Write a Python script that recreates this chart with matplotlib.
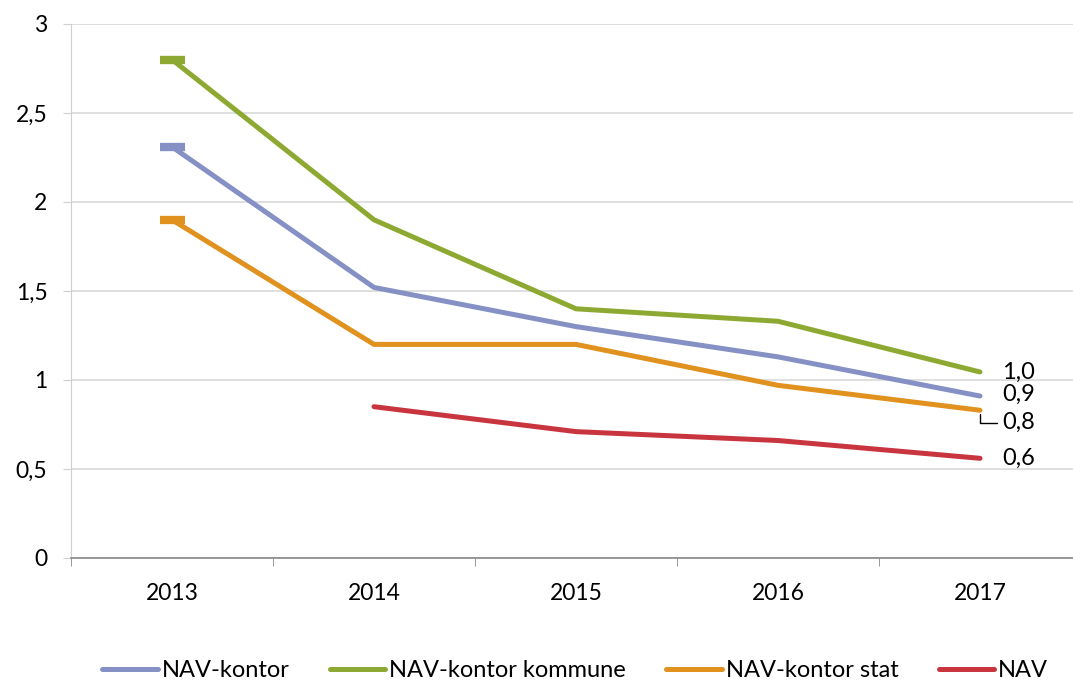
import numpy as np
import matplotlib
matplotlib.use("Agg")
import matplotlib.pyplot as plt

plt.rcParams["font.family"] = ["Lato", "DejaVu Sans"]

years = ["2013", "2014", "2015", "2016", "2017"]
nav_kontor = [2.31, 1.52, 1.30, 1.13, 0.91]
nav_kontor_kommune = [2.80, 1.90, 1.40, 1.33, 1.045]
nav_kontor_stat = [1.90, 1.20, 1.20, 0.97, 0.83]
nav = [np.nan, 0.85, 0.71, 0.66, 0.56]

series = [
    ("NAV-kontor", nav_kontor, "#8591C4"),
    ("NAV-kontor kommune", nav_kontor_kommune, "#8EA932"),
    ("NAV-kontor stat", nav_kontor_stat, "#E0911E"),
    ("NAV", nav, "#C9353F"),
]
# label offsets (points) for end labels
label_dy = [1, 0, -9, 0]

fig = plt.figure(figsize=(10.73, 6.84), dpi=100)
ax = fig.add_axes([71 / 1073, 1 - 558 / 684, 1010 / 1073, 534 / 684])

x = np.arange(len(years))
for (name, vals, col), dy in zip(series, label_dy):
    vals = np.array(vals, dtype=float)
    ax.plot(x, vals, color=col, lw=3.6, solid_capstyle="round", label=name, zorder=3)
    if not np.isnan(vals[0]):
        ax.plot(x[:1], vals[:1], marker="_", ms=18, mew=6, color=col, zorder=3)
    txt = f"{vals[-1]:.1f}".replace(".", ",")
    if dy >= 0:
        ax.annotate(txt, (x[-1], vals[-1]), xytext=(16, dy), textcoords="offset points",
                    ha="left", va="center", fontsize=17)
    else:
        ax.annotate(txt, (x[-1], vals[-1]), xytext=(16, dy), textcoords="offset points",
                    ha="left", va="center", fontsize=17,
                    arrowprops=dict(arrowstyle="-", color="black", lw=1,
                                    shrinkA=2, shrinkB=3,
                                    connectionstyle="angle,angleA=0,angleB=90,rad=0"))

ax.set_xlim(-0.5, 4.5)
ax.set_ylim(0, 3)
ax.set_yticks(np.arange(0, 3.01, 0.5))
ax.set_yticklabels(["0", "0,5", "1", "1,5", "2", "2,5", "3"])
ax.set_xticks(x)
ax.set_xticklabels(years)
ax.set_xticks(np.arange(-0.5, 4.6, 1), minor=True)
ax.tick_params(axis="x", which="major", length=0, pad=18, labelsize=16.5)
ax.tick_params(axis="x", which="minor", length=6, color="#888888")
ax.tick_params(axis="y", length=6, color="#D0D0D0", labelsize=16.5, pad=11)

ax.grid(axis="y", color="#D9D9D9", lw=1.2)
ax.set_axisbelow(True)
for s in ["top", "right"]:
    ax.spines[s].set_visible(False)
ax.spines["left"].set_color("#D0D0D0")
ax.spines["bottom"].set_color("#888888")
ax.spines["bottom"].set_linewidth(1.2)

handles, labels = ax.get_legend_handles_labels()
fig.legend(handles, labels, loc="center", bbox_to_anchor=(0.536, 0.02), ncol=4,
           frameon=False, fontsize=17, handlelength=2.35, handletextpad=0.17,
           columnspacing=1.7)

fig.savefig("out.png", dpi=100)
